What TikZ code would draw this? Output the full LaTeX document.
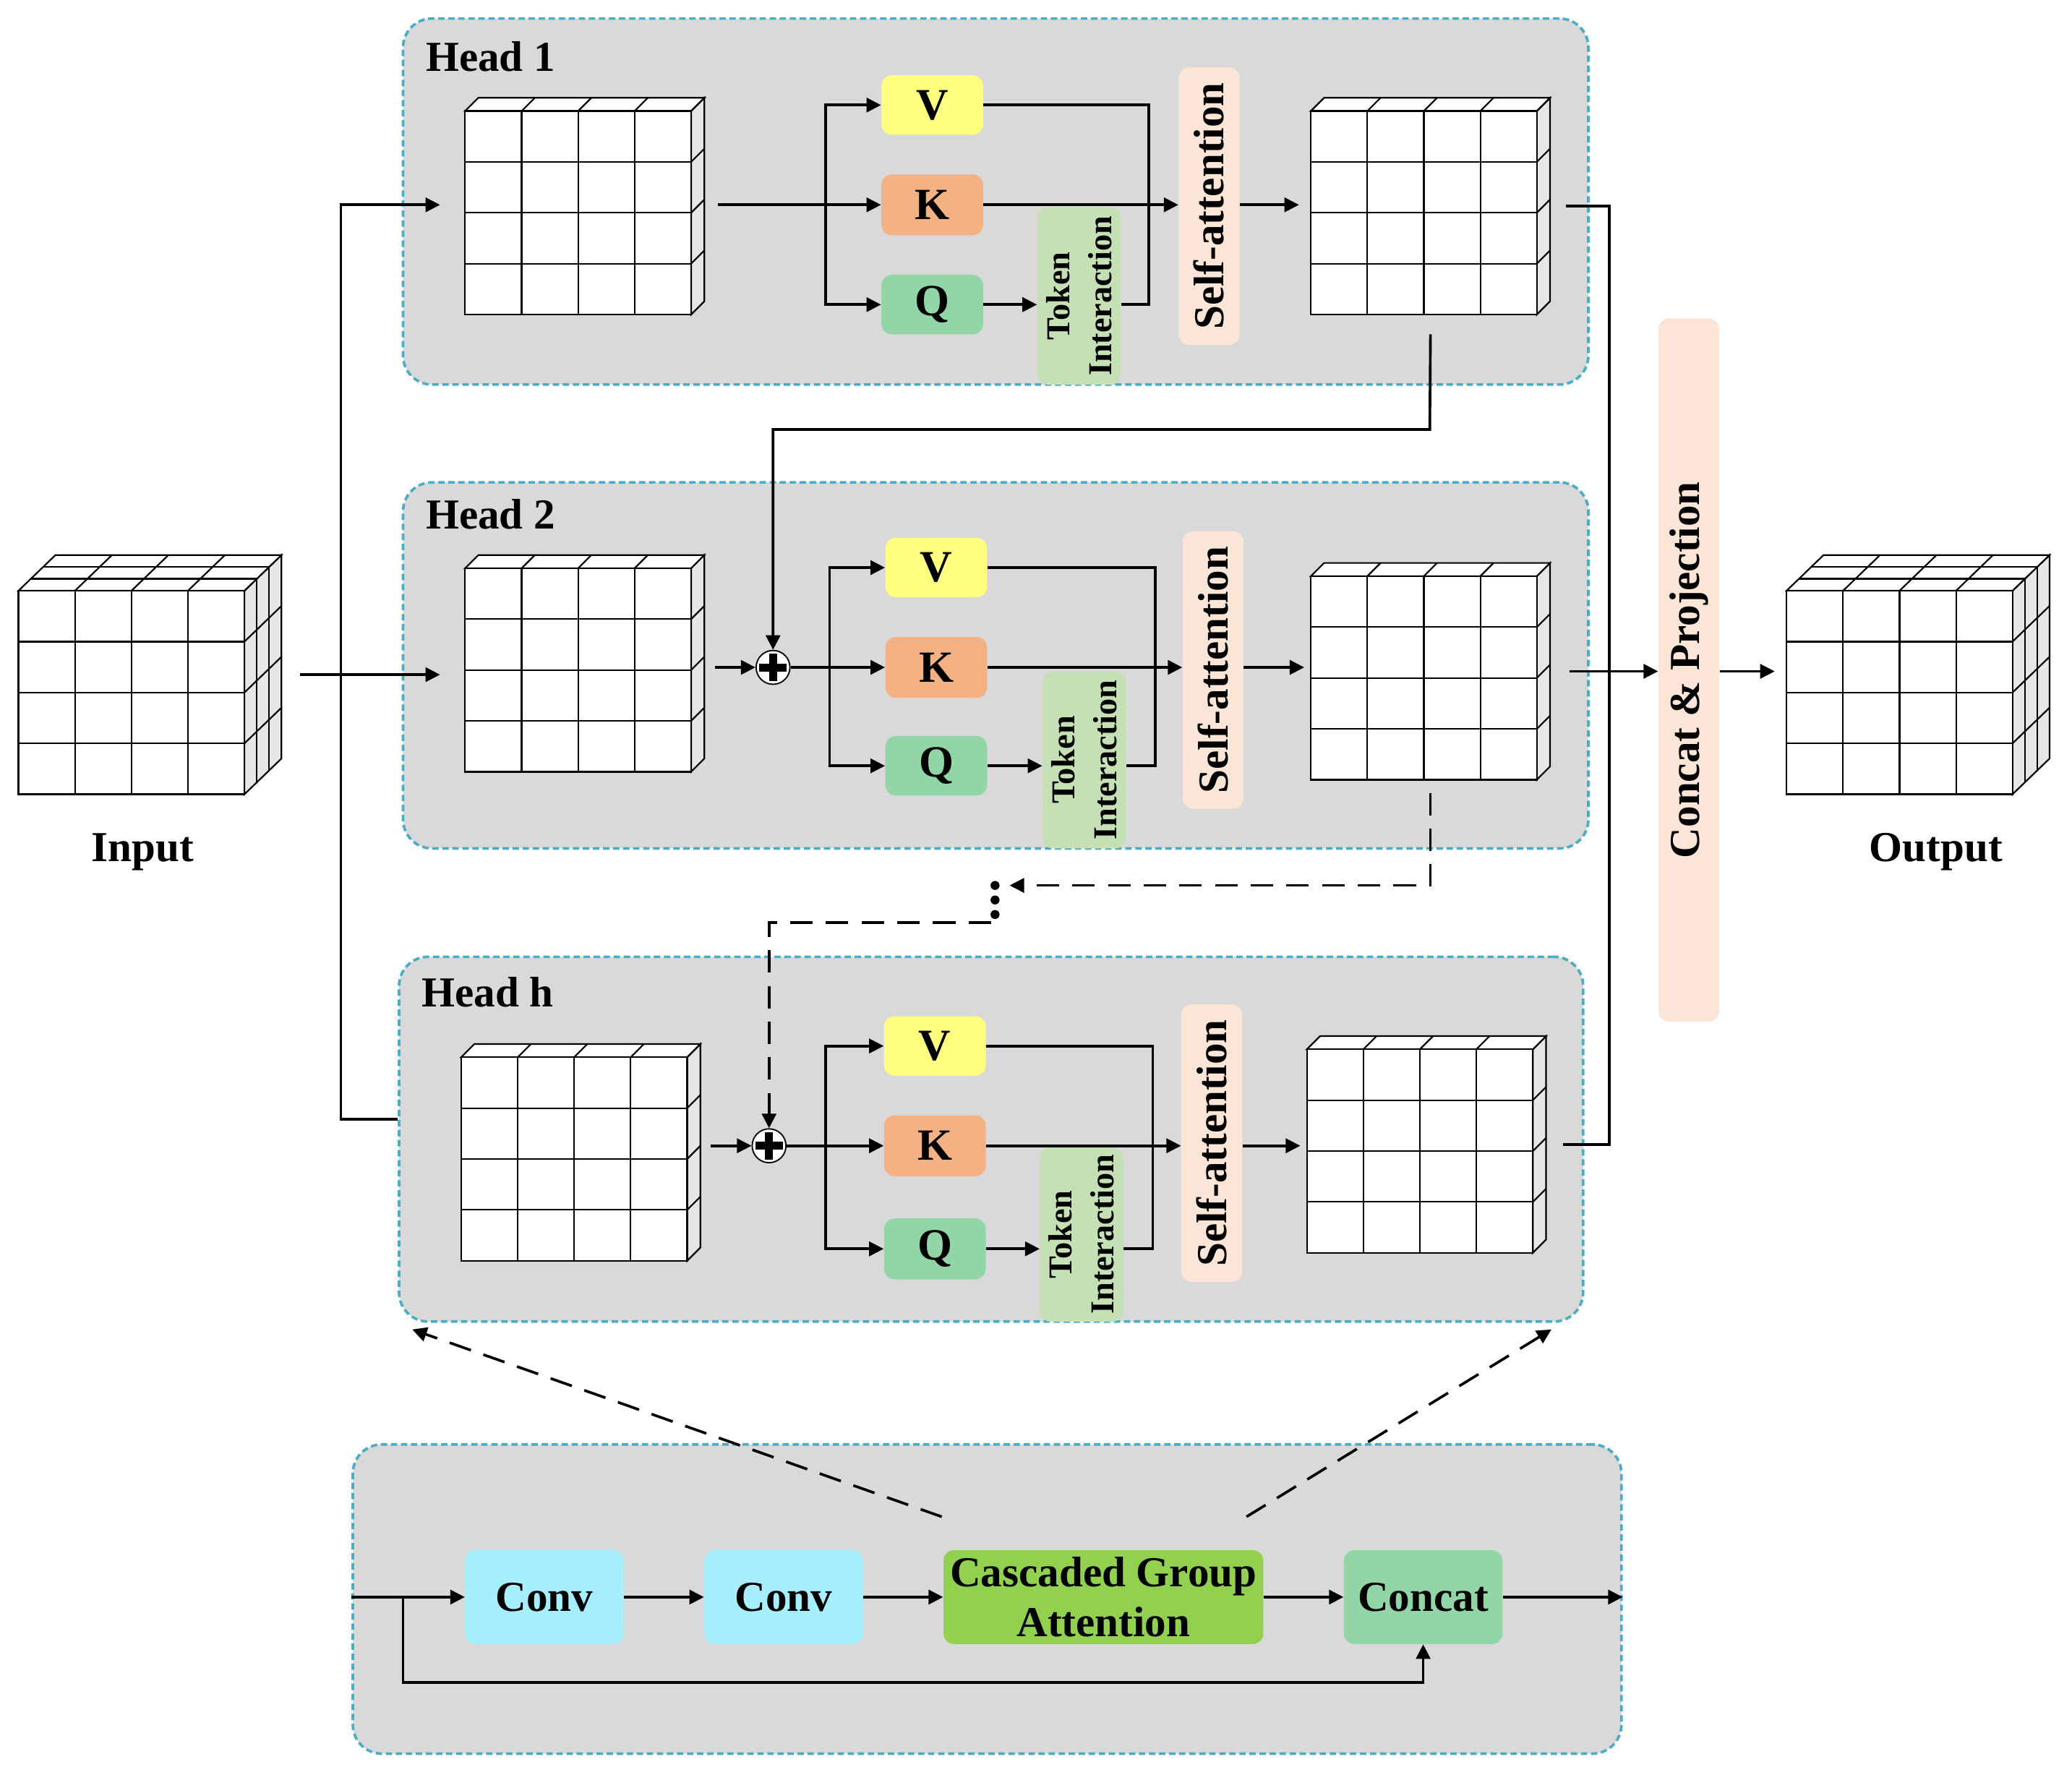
\documentclass[tikz,border=0pt]{standalone}
\usepackage{fontspec}
\setmainfont{Liberation Serif}
\usetikzlibrary{arrows.meta}
\definecolor{panelgray}{RGB}{217,217,217}
\definecolor{bordblue}{RGB}{75,172,198}
\definecolor{cv}{RGB}{255,255,128}
\definecolor{ck}{RGB}{244,177,131}
\definecolor{cq}{RGB}{146,214,168}
\definecolor{cti}{RGB}{197,224,180}
\definecolor{csa}{RGB}{251,229,214}
\definecolor{cconv}{RGB}{166,239,255}
\definecolor{ccga}{RGB}{146,208,80}
\definecolor{cside}{RGB}{230,230,230}

\newcommand\bx[7]{%
  \pgfmathsetmacro\bxw{(#4-#2)*0.25}%
  \pgfmathsetmacro\bxh{(#5-#3)*0.25}%
  \node[#6, minimum width=\bxw mm, minimum height=\bxh mm] (#1) at ({(#2+#4)/2},{(#3+#5)/2}) {#7};%
}
\newcommand\gcube[6]{%
  \pgfmathsetmacro\cubtx{#4*#5}%
  \pgfmathsetmacro\cubty{#4*#6}%
  \filldraw[cube, fill=cside] (#2+171,#3) -- ++(\cubtx,-\cubty) -- ++(0,154) -- (#2+171,#3+154) -- cycle;
  \foreach \i in {1,2,3} \draw[cube] (#2+171,#3+\i*38.5) -- ++(\cubtx,-\cubty);
  \filldraw[cube, fill=white] (#2,#3) -- ++(\cubtx,-\cubty) -- ++(171,0) -- (#2+171,#3) -- cycle;
  \foreach \i in {1,2,3} \draw[cube] (#2+\i*42.75,#3) -- ++(\cubtx,-\cubty);
  \ifnum#4>1
    \pgfmathtruncatemacro\cubnm{#4-1}%
    \foreach \j in {1,...,\cubnm} {
      \draw[cube] (#2+\j*#5,#3-\j*#6) -- ++(171,0);
      \draw[cube] (#2+171+\j*#5,#3-\j*#6) -- ++(0,154);
    }
  \fi
  \filldraw[cube, fill=white] (#2,#3) rectangle ++(171,154);
  \foreach \i in {1,2,3} {
    \draw[cube] (#2+\i*42.75,#3) -- ++(0,154);
    \draw[cube] (#2,#3+\i*38.5) -- ++(171,0);
  }
  \pgfmathsetmacro\cubW{(171+\cubtx)*0.25}%
  \pgfmathsetmacro\cubH{(154+\cubty)*0.25}%
  \node[inner sep=0, outer sep=0, minimum width=\cubW mm, minimum height=\cubH mm, anchor=south west] (#1) at (#2,#3+154) {};
}

\begin{document}
\begin{tikzpicture}[x=0.25mm,y=-0.25mm,
  line/.style={line width=0.5mm},
  arr/.style={line width=0.5mm, -{Triangle[length=2.75mm,width=2.7mm]}},
  dsh/.style={dash pattern=on 4.25mm off 2.5mm},
  cube/.style={line width=0.3mm, draw=black},
  panel/.style={draw=bordblue, fill=panelgray, line width=0.5mm, dash pattern=on 1.2mm off 0.7mm, rounded corners=5.5mm, inner sep=0},
  bbox/.style={rounded corners=2mm, inner sep=0, font=\bfseries\fontsize{23}{27}\selectfont},
  vkq/.style={bbox, font=\bfseries\fontsize{24}{28}\selectfont},
  lbl/.style={font=\bfseries\fontsize{23}{27}\selectfont, inner sep=0},
  rtxt/.style={rotate=90, inner sep=0, align=center},
  tifont/.style={font=\bfseries\fontsize{18}{22.5}\selectfont},
  dotn/.style={circle, fill=black, inner sep=0, minimum size=1.7mm},
  plusc/.style={circle, draw, line width=0.25mm, fill=white, minimum size=6.4mm, inner sep=0,
    path picture={
      \draw[line width=1.5mm] ([xshift=-2.6mm]path picture bounding box.center) -- ([xshift=2.6mm]path picture bounding box.center);
      \draw[line width=1.5mm] ([yshift=-2.6mm]path picture bounding box.center) -- ([yshift=2.6mm]path picture bounding box.center);
    }},
]
\useasboundingbox (0,0) rectangle (1568,1343);

% ---------- Head 1 ----------
\bx{h1}{305}{14}{1202}{291}{panel}{}
\node[lbl, anchor=west] (h1l) at (322,43) {Head 1};
\gcube{c1a}{352}{84}{1}{10}{10}
\gcube{c1b}{992}{84}{1}{10}{10}
\bx{v1}{667}{57}{744}{102}{vkq, fill=cv}{V}
\bx{k1}{667}{132}{744}{178}{vkq, fill=ck}{K}
\bx{q1}{667}{208}{744}{253}{vkq, fill=cq}{Q}
\bx{ti1}{785}{157}{848}{291}{bbox, fill=cti}{}
\node[rtxt, tifont] (ti1t) at (ti1) {Token\\Interaction};
\bx{sa1}{892}{51}{938}{261}{bbox, fill=csa}{}
\node[rtxt, lbl] (sa1t) at (sa1) {Self-attention};

% ---------- Head 2 ----------
\bx{h2}{305}{365}{1202}{642}{panel}{}
\node[lbl, anchor=west] (h2l) at (322,389) {Head 2};
\gcube{c2a}{352}{430}{1}{10}{10}
\gcube{c2b}{992}{436}{1}{10}{10}
\node[plusc] (p2) at (585,505) {};
\bx{v2}{670}{407}{747}{452}{vkq, fill=cv}{V}
\bx{k2}{670}{482}{747}{528}{vkq, fill=ck}{K}
\bx{q2}{670}{557}{747}{602}{vkq, fill=cq}{Q}
\bx{ti2}{789}{508}{852}{642}{bbox, fill=cti}{}
\node[rtxt, tifont] (ti2t) at (ti2) {Token\\Interaction};
\bx{sa2}{895}{402}{941}{612}{bbox, fill=csa}{}
\node[rtxt, lbl] (sa2t) at (sa2) {Self-attention};

% ---------- Head h ----------
\bx{hh}{302}{724}{1198}{1000}{panel}{}
\node[lbl, anchor=west] (hhl) at (319,751) {Head h};
\gcube{cha}{349}{800}{1}{10}{10}
\gcube{chb}{989}{794}{1}{10}{10}
\node[plusc] (ph) at (582,867) {};
\bx{vh}{669}{769}{746}{814}{vkq, fill=cv}{V}
\bx{kh}{669}{844}{746}{890}{vkq, fill=ck}{K}
\bx{qh}{669}{922}{746}{968}{vkq, fill=cq}{Q}
\bx{tih}{787}{868}{850}{1000}{bbox, fill=cti}{}
\node[rtxt, tifont] (tiht) at (tih) {Token\\Interaction};
\bx{sah}{894}{760}{940}{970}{bbox, fill=csa}{}
\node[rtxt, lbl] (saht) at (sah) {Self-attention};

% ---------- Input / Output ----------
\gcube{inp}{14}{447}{3}{9.33}{9}
\node[lbl, anchor=base] (inl) at (108,652) {Input};
\gcube{outc}{1352}{447}{3}{9.33}{9}
\node[lbl, anchor=base] (outl) at (1465,652) {Output};
\bx{cp}{1255}{241}{1301}{773}{bbox, fill=csa}{}
\node[rtxt, lbl] (cpt) at (cp) {Concat \& Projection};

% ---------- Bottom block ----------
\bx{bp}{267}{1093}{1227}{1327}{panel}{}
\bx{conv1}{352}{1173}{472}{1244}{bbox, fill=cconv}{Conv}
\bx{conv2}{533}{1173}{653}{1244}{bbox, fill=cconv}{Conv}
\bx{cga}{714}{1173}{956}{1244}{bbox, fill=ccga, align=center}{Cascaded Group\\Attention}
\bx{cat}{1017}{1173}{1137}{1244}{bbox, fill=cq}{Concat}

% ---------- connectors ----------
\coordinate (lt) at (258,155);
\draw[arr] ([yshift=3.75mm]hh.west) -| (lt) -- ([xshift=-4.75mm]c1a.west |- lt);
\draw[arr] ([xshift=3.5mm]inp.east) -- ([xshift=-4.75mm]c2a.west |- inp.east);

% head 1
\draw[arr] ([xshift=2.5mm]c1a.east |- k1.west) -- (k1.west);
\draw[arr] ([xshift=-10.5mm]k1.west) |- (v1.west);
\draw[arr] ([xshift=-10.5mm]k1.west) |- (q1.west);
\draw[line] (v1.east) -| ([xshift=5.25mm]ti1.east |- q1.east) -- (ti1.east |- q1.east);
\draw[arr] (q1.east) -- (ti1.west |- q1.east);
\draw[arr] (k1.east) -- (sa1.west |- k1.east);
\draw[arr] (sa1.east |- k1.east) -- ([xshift=-2.25mm]c1b.west |- k1.east);

% head 1 -> head 2
\coordinate (m12) at (1082,325);
\draw[arr] ([yshift=-3.75mm]c1b.south) -- (m12) -| (p2.north);

% head 2
\draw[arr] ([xshift=2mm]c2a.east |- p2) -- (p2.west);
\draw[arr] (p2.east) -- (k2.west);
\draw[arr] ([xshift=-10.5mm]k2.west) |- (v2.west);
\draw[arr] ([xshift=-10.5mm]k2.west) |- (q2.west);
\draw[line] (v2.east) -| ([xshift=5.5mm]ti2.east |- q2.east) -- (ti2.east |- q2.east);
\draw[arr] (q2.east) -- (ti2.west |- q2.east);
\draw[arr] (k2.east) -- (sa2.west |- k2.east);
\draw[arr] (sa2.east |- k2.east) -- ([xshift=-1.25mm]c2b.west |- k2.east);
\draw[arr] ([xshift=3.75mm]c2b.east) -- (cp.west |- c2b.east);

% head 2 -> head h (dashed)
\node[dotn] (d1) at (753,670) {};
\node[dotn] (d2) at (753,681) {};
\node[dotn] (d3) at (753,692) {};
\draw[arr, dsh] ([yshift=-2.5mm]c2b.south) |- ([xshift=2.75mm]d1.center);
\draw[arr, dsh] ([xshift=-0.75mm,yshift=-1.5mm]d3.center) -| (ph.north);

% head h
\draw[arr] ([xshift=2mm]cha.east |- ph) -- (ph.west);
\draw[arr] (ph.east) -- (kh.west);
\draw[arr] ([xshift=-11mm]kh.west) |- (vh.west);
\draw[arr] ([xshift=-11mm]kh.west) |- (qh.west);
\draw[line] (vh.east) -| ([xshift=5.5mm]tih.east |- qh.east) -- (tih.east |- qh.east);
\draw[arr] (qh.east) -- (tih.west |- qh.east);
\draw[arr] (kh.east) -- (sah.west |- kh.east);
\draw[arr] (sah.east |- kh.east) -- ([xshift=-1.25mm]chb.west |- kh.east);

% right trunk
\coordinate (rt) at (1218,155);
\draw[line] ([xshift=3mm]c1b.east) -| (rt |- chb.east) -- ([xshift=3.25mm]chb.east);
\draw[arr] (cp.east |- c2b.east) -- ([xshift=-2.25mm]outc.west |- c2b.east);

% bottom block
\draw[arr] (bp.west |- conv1.west) -- (conv1.west);
\draw[arr] (conv1.east) -- (conv2.west);
\draw[arr] (conv2.east) -- (cga.west);
\draw[arr] (cga.east) -- (cat.west);
\draw[arr] (cat.east) -- (bp.east |- cat.east);
\coordinate (sk) at (305,1273);
\draw[arr] (sk |- conv1.west) -- (sk) -| (cat.south);
\draw[arr, dsh] ([xshift=-0.25mm,yshift=6.25mm]cga.north west) -- ([xshift=2.75mm,yshift=-1.25mm]hh.south west);
\draw[arr, dsh] ([xshift=-3.25mm,yshift=6.25mm]cga.north east) -- ([xshift=-6.25mm,yshift=-1.25mm]hh.south east);
\end{tikzpicture}
\end{document}
